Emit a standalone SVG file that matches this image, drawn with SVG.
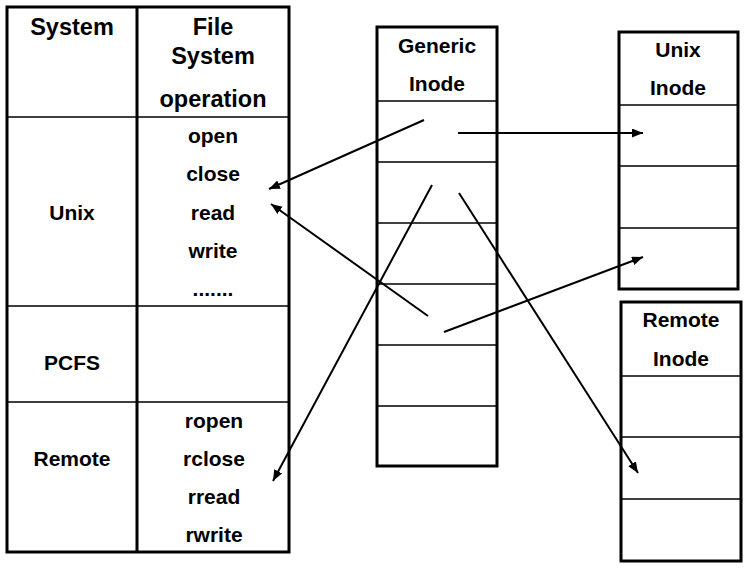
<svg xmlns="http://www.w3.org/2000/svg" width="749" height="568" viewBox="0 0 749 568">
<style>
.box{fill:#fff;stroke:#000;stroke-width:3}
.row{stroke:#000;stroke-width:1.3;fill:none}
.div{stroke:#000;stroke-width:3;fill:none}
text{font-family:"Liberation Sans",Arial,sans-serif;font-weight:bold;fill:#000;text-anchor:middle}
.h{font-size:23.5px}
.t{font-size:21px}
.c{stroke:#000;stroke-width:2;fill:none;marker-end:url(#ah)}
</style>
<defs>
<marker id="ah" markerUnits="userSpaceOnUse" markerWidth="12" markerHeight="10" refX="11" refY="4.5" orient="auto">
<path d="M0,0 L11,4.5 L0,9 Z" fill="#000"/>
</marker>
</defs>
<rect width="749" height="568" fill="#fff"/>
<g id="table">
<rect class="box" x="7" y="7" width="282" height="545"/>
<line class="row" x1="7" y1="117" x2="289" y2="117"/>
<line class="row" x1="7" y1="306" x2="289" y2="306"/>
<line class="row" x1="7" y1="402" x2="289" y2="402"/>
<line class="div" x1="137" y1="7" x2="137" y2="552"/>
<text class="h" x="72" y="35">System</text>
<text class="h" x="213" y="35">File</text>
<text class="h" x="213" y="64">System</text>
<text class="h" x="213" y="107">operation</text>
<text class="t" x="72" y="220">Unix</text>
<text class="t" x="213" y="143">open</text>
<text class="t" x="213" y="181">close</text>
<text class="t" x="213" y="220">read</text>
<text class="t" x="213" y="258">write</text>
<text class="t" x="213" y="296">.......</text>
<text class="t" x="72" y="370">PCFS</text>
<text class="t" x="72" y="466">Remote</text>
<text class="t" x="214" y="428">ropen</text>
<text class="t" x="214" y="466">rclose</text>
<text class="t" x="214" y="504">rread</text>
<text class="t" x="214" y="542">rwrite</text>
</g>
<g id="generic-inode">
<rect class="box" x="377" y="27" width="120" height="439"/>
<line class="row" x1="377" y1="101" x2="497" y2="101"/>
<line class="row" x1="377" y1="162" x2="497" y2="162"/>
<line class="row" x1="377" y1="223" x2="497" y2="223"/>
<line class="row" x1="377" y1="284" x2="497" y2="284"/>
<line class="row" x1="377" y1="345" x2="497" y2="345"/>
<line class="row" x1="377" y1="406" x2="497" y2="406"/>
<text class="t" x="437" y="53">Generic</text>
<text class="t" x="437" y="91">Inode</text>
</g>
<g id="unix-inode">
<rect class="box" x="619" y="32" width="119" height="257"/>
<line class="row" x1="619" y1="105" x2="738" y2="105"/>
<line class="row" x1="619" y1="166" x2="738" y2="166"/>
<line class="row" x1="619" y1="228" x2="738" y2="228"/>
<text class="t" x="678" y="57">Unix</text>
<text class="t" x="678" y="95">Inode</text>
</g>
<g id="remote-inode">
<rect class="box" x="621" y="302" width="120" height="259"/>
<line class="row" x1="621" y1="376" x2="741" y2="376"/>
<line class="row" x1="621" y1="437" x2="741" y2="437"/>
<line class="row" x1="621" y1="499" x2="741" y2="499"/>
<text class="t" x="681" y="327">Remote</text>
<text class="t" x="681" y="366">Inode</text>
</g>
<g id="connectors">
<line class="c" x1="424" y1="120" x2="269" y2="189"/>
<line class="c" x1="428" y1="316" x2="271" y2="204"/>
<line class="c" x1="432" y1="185" x2="273" y2="481"/>
<line class="c" x1="458" y1="133" x2="643" y2="133"/>
<line class="c" x1="444" y1="332" x2="643" y2="257"/>
<line class="c" x1="459" y1="193" x2="638" y2="473"/>
</g>
</svg>
